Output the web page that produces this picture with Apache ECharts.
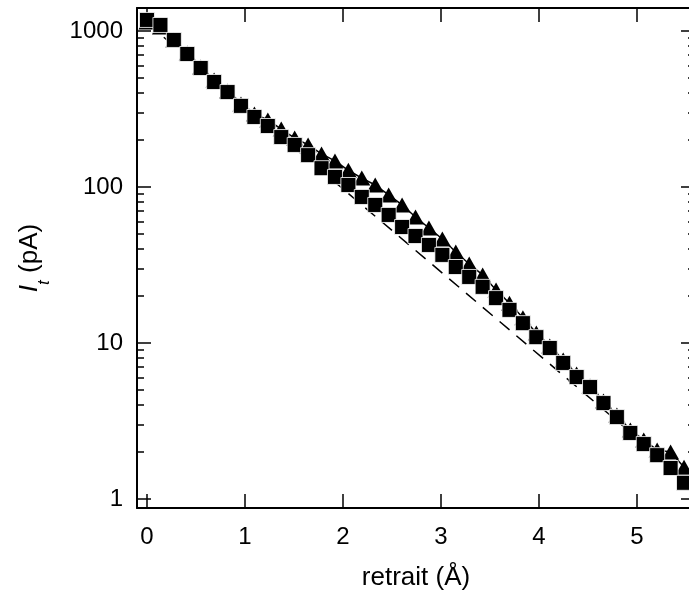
<!DOCTYPE html>
<html>
<head>
<meta charset="utf-8">
<script src="https://cdn.jsdelivr.net/npm/echarts@6/dist/echarts.min.js"></script>
<style>html,body{margin:0;padding:0;background:#fff;overflow:hidden;}#c{width:700px;height:597px;}</style>
</head>
<body>
<div id="c"></div>
<script>
// retrait (Å)
const xVals = [0, 0.137, 0.274, 0.411, 0.548, 0.685, 0.822, 0.959, 1.096, 1.233, 1.37, 1.507, 1.644, 1.781, 1.918, 2.055, 2.192, 2.329, 2.466, 2.603, 2.74, 2.877, 3.014, 3.151, 3.288, 3.425, 3.562, 3.699, 3.836, 3.973, 4.11, 4.247, 4.384, 4.521, 4.658, 4.795, 4.932, 5.069, 5.206, 5.343, 5.48];
// I_t (pA), squares
const squareVals = [1177, 1093, 876, 712, 579, 471, 406, 331, 281, 246, 209, 186, 160, 132, 116, 103, 86.3, 76.7, 66.2, 55.4, 48.5, 42.5, 36.7, 30.7, 26.5, 22.9, 19.4, 16.3, 13.4, 10.9, 9.29, 7.45, 6.05, 5.22, 4.12, 3.35, 2.65, 2.25, 1.91, 1.58, 1.27];
// I_t (pA), triangles
const triVals = [1142, 1061, 876, 722, 588, 485, 412, 341, 294, 269, 235, 206, 186, 163, 147, 128, 114, 103, 88.9, 76.7, 64.2, 54.6, 46.4, 38.3, 32.1, 27.3, 21.9, 18.0, 14.5, 11.6, 9.57, 7.78, 6.33, 5.30, 4.25, 3.45, 2.77, 2.39, 2.06, 2.00, 1.60];
// dashed exponential fit (end points)
const fitX = [0, 5.2];
const fitY = [1125, 1.93];
// axes
const xTicks = [0, 1, 2, 3, 4, 5];
const yTicks = [1, 10, 100, 1000];
const yMinorTicks = [2,3,4,5,6,7,8,9,20,30,40,50,60,70,80,90,200,300,400,500,600,700,800,900];
const xRange = [-0.102, 5.592];
const yRange = [0.8756, 1404];

const pair = (xs, ys) => xs.map((x, i) => [x, ys[i]]);
const FONT = '"Liberation Sans", Arial, Helvetica, sans-serif';
const black = '#000';
const FS = 24;
const NFS = 26;

const chart = echarts.init(document.getElementById('c'), null, {renderer: 'canvas'});

function xAx(pos, showLabel, name) {
  return {
    type: 'value', position: pos, min: xRange[0], max: xRange[1],
    axisLine: {show: true, onZero: false, lineStyle: {color: black, width: 2}},
    axisTick: {show: true, inside: true, length: 14, customValues: xTicks, lineStyle: {color: black, width: 1.5}},
    axisLabel: {show: showLabel, customValues: xTicks, margin: 17, color: black, fontSize: FS, fontFamily: FONT,
      formatter: v => String(v)},
    splitLine: {show: false},
    name: name, nameLocation: 'middle', nameGap: 57,
    nameTextStyle: {color: black, fontSize: NFS, fontFamily: FONT}
  };
}
function yAx(pos, ticks, len, showLabel, showLine, name) {
  const a = {
    type: 'log', logBase: 10, position: pos, min: yRange[0], max: yRange[1],
    axisLine: {show: showLine, onZero: false, lineStyle: {color: black, width: 2}},
    axisTick: {show: true, inside: true, length: len, customValues: ticks, lineStyle: {color: black, width: 1.5}},
    axisLabel: {show: showLabel, customValues: ticks, margin: 14, color: black, fontSize: FS, fontFamily: FONT,
      formatter: v => String(Math.round(v))},
    splitLine: {show: false}, minorTick: {show: false}
  };
  if (name) {
    a.name = name;
    a.nameLocation = 'middle';
    a.nameGap = 94;
    a.nameRotate = 90;
    a.nameTextStyle = {
      color: black, fontSize: NFS, fontFamily: FONT,
      rich: {
        i: {fontStyle: 'italic', fontSize: NFS, fontFamily: FONT, color: black},
        s: {fontStyle: 'italic', fontSize: 17, fontFamily: FONT, color: black, verticalAlign: 'bottom', padding: [0, 0, -10, 0]},
        n: {fontSize: NFS, fontFamily: FONT, color: black}
      }
    };
  }
  return a;
}

const option = {
  animation: false,
  backgroundColor: '#fff',
  grid: {left: 137, top: 8, width: 558, height: 500, containLabel: false},
  xAxis: [
    xAx('bottom', true, 'retrait (Å)'),
    xAx('top', false, '')
  ],
  yAxis: [
    yAx('left', yTicks, 14, true, true, '{i|I}{s|t}{n| (pA)}'),
    yAx('left', yMinorTicks, 7, false, false),
    yAx('right', yTicks, 14, false, true),
    yAx('right', yMinorTicks, 7, false, false)
  ],
  series: [
    {
      type: 'line', xAxisIndex: 0, yAxisIndex: 0,
      data: pair(fitX, fitY), symbol: 'none',
      lineStyle: {color: black, width: 1.5, type: [13, 9]}, z: 1
    },
    {
      type: 'line', xAxisIndex: 0, yAxisIndex: 0,
      data: pair(xVals, triVals), symbol: 'triangle', symbolSize: [17, 15],
      itemStyle: {color: black}, lineStyle: {color: black, width: 1.5}, z: 2
    },
    {
      type: 'line', xAxisIndex: 0, yAxisIndex: 0,
      data: pair(xVals, squareVals), symbol: 'rect', symbolSize: 15,
      itemStyle: {color: black, borderColor: '#fff', borderWidth: 0.8},
      lineStyle: {color: black, width: 1.5}, z: 3
    }
  ]
};
chart.setOption(option);
</script>
</body>
</html>
